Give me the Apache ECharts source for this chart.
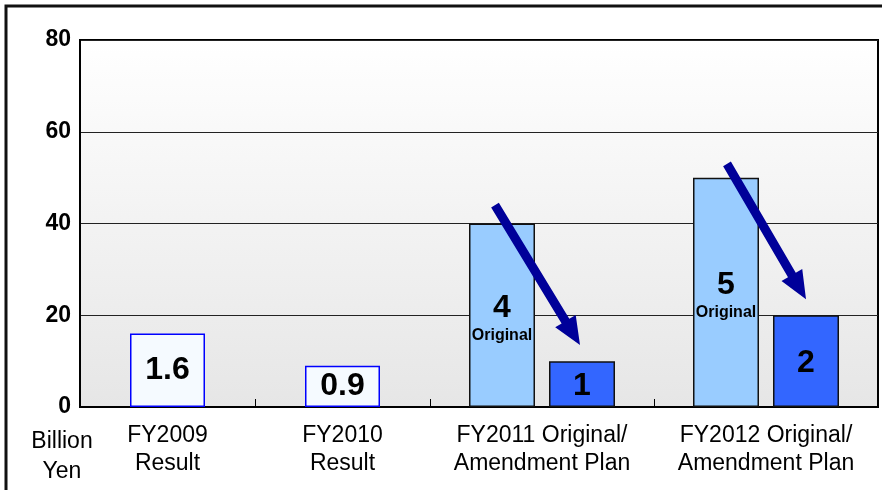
<!DOCTYPE html>
<html>
<head>
<meta charset="utf-8">
<script src="https://cdn.jsdelivr.net/npm/echarts@6/dist/echarts.min.js"></script>
<style>html,body{margin:0;padding:0;background:#fff}#c{width:882px;height:490px}</style>
</head>
<body>
<div id="c"></div>
<script>
// ---- data ----
var resultCategories = ['FY2009\nResult', 'FY2010\nResult'];
var resultValues = [16, 9];
var resultLabels = ['1.6', '0.9'];

var planCategories = ['FY2011 Original/\nAmendment Plan', 'FY2012 Original/\nAmendment Plan'];
var originalValues = [40, 50];
var originalLabels = ['4', '5'];
var amendmentValues = [10, 20];
var amendmentLabels = ['1', '2'];

var yTicks = [0, 20, 40, 60, 80];
var unitLabel = 'Billion\nYen';

// arrow annotations (value levels of start and tip)
var arrowStartValues = [44, 53];
var arrowTipValues = [13.5, 23.5];

var FONT = 'Liberation Sans, Arial, sans-serif';
var chart = echarts.init(document.getElementById('c'));

var planBarWidth = 66, planGap = 14;

var option = {
  animation: false,
  textStyle: { fontFamily: FONT },
  title: {
    text: unitLabel, left: 57, top: 422, textAlign: 'center',
    textStyle: { fontFamily: FONT, fontSize: 23, fontWeight: 'normal', color: '#000', lineHeight: 30, align: 'center' }
  },
  grid: [
    { left: 80, right: 4, top: 40, bottom: 83, show: true, borderColor: '#000', borderWidth: 2,
      backgroundColor: new echarts.graphic.LinearGradient(0, 0, 0, 1, [
        { offset: 0, color: '#ffffff' }, { offset: 1, color: '#e6e6e6' }]) },
    { left: 80, width: 350, top: 40, bottom: 83 },
    { left: 430, right: 4, top: 40, bottom: 83 }
  ],
  xAxis: [
    { gridIndex: 0, type: 'value', show: false, min: 0, max: 1 },
    { gridIndex: 1, type: 'category', data: resultCategories,
      axisLine: { show: true, lineStyle: { color: '#000', width: 2 } },
      axisTick: { show: true, inside: true, length: 8, interval: 0, lineStyle: { color: '#000', width: 1 } },
      axisLabel: { color: '#000', fontSize: 23, lineHeight: 28, margin: 15, interval: 0, hideOverlap: false, fontFamily: FONT } },
    { gridIndex: 2, type: 'category', data: planCategories,
      axisLine: { show: true, lineStyle: { color: '#000', width: 2 } },
      axisTick: { show: true, inside: true, length: 8, interval: 0, lineStyle: { color: '#000', width: 1 } },
      axisLabel: { color: '#000', fontSize: 23, lineHeight: 28, margin: 15, interval: 0, hideOverlap: false, fontFamily: FONT } }
  ],
  yAxis: [
    { gridIndex: 0, type: 'value', min: yTicks[0], max: yTicks[yTicks.length - 1], interval: 20,
      axisLine: { show: true, lineStyle: { color: '#000', width: 2 } },
      axisTick: { show: false },
      splitLine: { show: true, lineStyle: { color: '#222', width: 1 } },
      axisLabel: { color: '#000', fontSize: 23, fontWeight: 'bold', margin: 9, fontFamily: FONT } },
    { gridIndex: 1, type: 'value', min: 0, max: 80, show: false, splitLine: { show: false } },
    { gridIndex: 2, type: 'value', min: 0, max: 80, show: false, splitLine: { show: false } }
  ],
  series: [
    { type: 'bar', xAxisIndex: 1, yAxisIndex: 1, data: resultValues, barWidth: 75,
      itemStyle: { color: '#f5faff', borderColor: '#0000ff', borderWidth: 1.5 },
      label: { show: true, position: 'inside', color: '#000', fontSize: 32, fontWeight: 'bold', fontFamily: FONT,
        formatter: function (p) { return resultLabels[p.dataIndex]; } } },
    { type: 'bar', xAxisIndex: 2, yAxisIndex: 2, data: originalValues, barWidth: planBarWidth,
      barGap: (planGap / planBarWidth * 100) + '%',
      itemStyle: { color: '#99ccff', borderColor: '#111', borderWidth: 1.5 },
      label: { show: true, position: 'inside', offset: [0, 4], fontFamily: FONT,
        formatter: function (p) { return '{n|' + originalLabels[p.dataIndex] + '}\n{s|Original}'; },
        rich: {
          n: { fontSize: 32, fontWeight: 'bold', color: '#000', lineHeight: 32, align: 'center', fontFamily: FONT },
          s: { fontSize: 16, fontWeight: 'bold', color: '#000', lineHeight: 22, align: 'center', fontFamily: FONT }
        } } },
    { type: 'bar', xAxisIndex: 2, yAxisIndex: 2, data: amendmentValues, barWidth: planBarWidth,
      barGap: (planGap / planBarWidth * 100) + '%',
      itemStyle: { color: '#3366ff', borderColor: '#111', borderWidth: 1.5 },
      label: { show: true, position: 'inside', offset: [0, 2], color: '#000', fontSize: 32, fontWeight: 'bold', fontFamily: FONT,
        formatter: function (p) { return amendmentLabels[p.dataIndex]; } } }
  ]
};
chart.setOption(option);

function arrowPoints(sx, sy, tx, ty) {
  var dx = tx - sx, dy = ty - sy, len = Math.sqrt(dx * dx + dy * dy);
  var ux = dx / len, uy = dy / len, nx = -uy, ny = ux;
  var w = 4.5, h = 12, L = 28;
  var bx = tx - ux * L, by = ty - uy * L;
  return [
    [sx + nx * w, sy + ny * w], [bx + nx * w, by + ny * w], [bx + nx * h, by + ny * h],
    [tx, ty],
    [bx - nx * h, by - ny * h], [bx - nx * w, by - ny * w], [sx - nx * w, sy - ny * w]
  ];
}

var graphics = [
  { type: 'rect', shape: { x: 6, y: 6, width: 900, height: 520 }, style: { fill: 'none', stroke: '#111', lineWidth: 3 }, silent: true, z: 100 }
];
var half = (planBarWidth + planGap) / 2;
for (var i = 0; i < planCategories.length; i++) {
  var start = chart.convertToPixel({ xAxisIndex: 2, yAxisIndex: 2 }, [i, arrowStartValues[i]]);
  var tip = chart.convertToPixel({ xAxisIndex: 2, yAxisIndex: 2 }, [i, arrowTipValues[i]]);
  var sx = start[0] - half + (i === 0 ? -7 : 1), sy = start[1];
  var tx = tip[0] + half + (i === 0 ? -2 : 0), ty = tip[1];
  graphics.push({ type: 'polygon', shape: { points: arrowPoints(sx, sy, tx, ty) },
    style: { fill: '#000099' }, z: 50 });
}
chart.setOption({ graphic: graphics });
</script>
</body>
</html>
